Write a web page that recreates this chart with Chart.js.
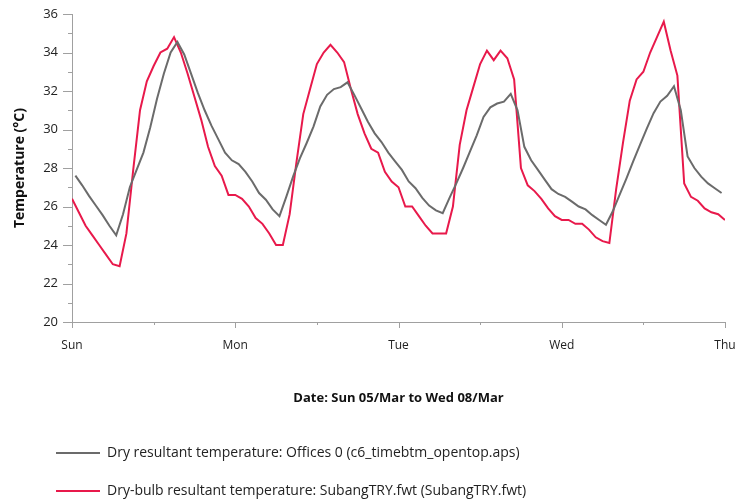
<!DOCTYPE html>
<html>
<head>
<meta charset="utf-8">
<script src="https://cdn.jsdelivr.net/npm/chart.js@4"></script>
<style>
  html, body { margin: 0; padding: 0; background: #fff; }
  #wrap { width: 745px; height: 500px; }
</style>
</head>
<body>
<div id="wrap"><canvas id="myChart" width="745" height="500"></canvas></div>
<script>
const dayLabels = ["Sun", "Mon", "Tue", "Wed", "Thu"];

// hourly, Sun 00:00 .. Thu 00:00
const subangTemp = [
    26.4, 25.7, 25.0, 24.5, 24.0, 23.5, 23.0, 22.9, 24.6, 27.9, 31.0, 32.5,
    33.3, 34.0, 34.2, 34.8, 34.0, 32.9, 31.7, 30.5, 29.1, 28.1, 27.6, 26.6,
    26.6, 26.4, 26.0, 25.4, 25.1, 24.6, 24.0, 24.0, 25.6, 28.3, 30.8, 32.1,
    33.4, 34.0, 34.4, 34.0, 33.5, 32.1, 30.8, 29.8, 29.0, 28.8, 27.8, 27.3,
    27.0, 26.0, 26.0, 25.5, 25.0, 24.6, 24.6, 24.6, 26.0, 29.2, 31.0, 32.2,
    33.4, 34.1, 33.6, 34.1, 33.7, 32.6, 28.0, 27.1, 26.8, 26.4, 25.9, 25.5,
    25.3, 25.3, 25.1, 25.1, 24.8, 24.4, 24.2, 24.1, 26.9, 29.3, 31.5, 32.6,
    33.0, 34.0, 34.8, 35.6, 34.1, 32.8, 27.2, 26.5, 26.3, 25.9, 25.7, 25.6,
    25.3
];

// hourly averages, logged at the half hour
const officeTemp = [
    27.6, 27.1, 26.55, 26.05, 25.55, 25.0, 24.5, 25.6, 27.0, 27.9, 28.8, 30.1,
    31.6, 32.9, 34.0, 34.55, 33.9, 32.9, 31.9, 31.0, 30.2, 29.5, 28.8, 28.4,
    28.2, 27.8, 27.3, 26.7, 26.35, 25.85, 25.5, 26.5, 27.55, 28.5, 29.3, 30.15,
    31.2, 31.8, 32.1, 32.2, 32.45, 31.8, 31.1, 30.4, 29.8, 29.35, 28.8, 28.35,
    27.9, 27.3, 26.95, 26.45, 26.05, 25.8, 25.65, 26.45, 27.2, 28.0, 28.85, 29.7,
    30.65, 31.15, 31.35, 31.45, 31.85, 31.0, 29.1, 28.4, 27.9, 27.4, 26.9, 26.65,
    26.5, 26.25, 26.0, 25.85, 25.55, 25.3, 25.05, 25.75, 26.6, 27.45, 28.35, 29.2,
    30.05, 30.85, 31.45, 31.75, 32.25, 31.0, 28.6, 28.0, 27.55, 27.2, 26.95, 26.7
];

const officeLabel = "Dry resultant temperature: Offices 0 (c6_timebtm_opentop.aps)";
const subangLabel = "Dry-bulb resultant temperature: SubangTRY.fwt (SubangTRY.fwt)";

Chart.defaults.font.family = "'Open Sans', sans-serif";
Chart.defaults.color = "#222";

const axisColor = "#a0a0a0";

// short/long tick marks like the original
const tickMarks = {
    id: "tickMarks",
    afterDraw(chart) {
        const ctx = chart.ctx;
        const area = chart.chartArea;
        const xs = chart.scales.x;
        const ys = chart.scales.y;
        ctx.save();
        ctx.strokeStyle = axisColor;
        ctx.lineWidth = 1;
        ctx.beginPath();
        ys.ticks.forEach(t => {
            const y = Math.round(ys.getPixelForValue(t.value)) + 0.5;
            const len = t.value % 2 === 0 ? 9 : 4;
            ctx.moveTo(area.left - len, y);
            ctx.lineTo(area.left, y);
        });
        xs.ticks.forEach(t => {
            const x = Math.round(xs.getPixelForValue(t.value)) + 0.5;
            const len = t.value % 24 === 0 ? 6 : 3;
            ctx.moveTo(x, area.bottom);
            ctx.lineTo(x, area.bottom + len);
        });
        ctx.stroke();
        ctx.restore();
    }
};

const shiftLegend = {
    id: "shiftLegend",
    afterLayout(chart) {
        chart.legend.left += 32;
        chart.legend.right += 32;
    }
};

const config = {
    type: "line",
    data: {
        datasets: [
            {
                label: officeLabel,
                data: officeTemp.map((v, i) => ({ x: i + 0.5, y: v })),
                borderColor: "#6b6b6b",
                backgroundColor: "#6b6b6b",
                borderWidth: 2,
                pointRadius: 0,
                tension: 0
            },
            {
                label: subangLabel,
                data: subangTemp.map((v, i) => ({ x: i, y: v })),
                borderColor: "#e8194b",
                backgroundColor: "#e8194b",
                borderWidth: 2,
                pointRadius: 0,
                tension: 0
            }
        ]
    },
    options: {
        responsive: false,
        animation: false,
        layout: { padding: { top: 14, right: 20, bottom: 0, left: 0 } },
        plugins: {
            tooltip: { enabled: false },
            legend: {
                position: "bottom",
                align: "start",
                maxHeight: 78,
                labels: {
                    boxWidth: 44,
                    boxHeight: 2,
                    padding: 24,
                    color: "#222",
                    font: { size: 14 },
                    generateLabels(chart) {
                        return Chart.defaults.plugins.legend.labels.generateLabels(chart)
                            .map(l => ({ ...l, lineWidth: 0, fillStyle: l.strokeStyle }));
                    }
                }
            }
        },
        scales: {
            x: {
                type: "linear",
                min: 0,
                max: 96,
                afterFit(scale) {
                    scale.height = 100;
                    scale.paddingLeft = 0;
                    scale.paddingRight = 0;
                },
                border: { color: axisColor },
                grid: { drawOnChartArea: false, drawTicks: false },
                ticks: {
                    stepSize: 12,
                    padding: 16,
                    maxRotation: 0,
                    autoSkip: false,
                    font: { size: 12 },
                    callback: v => (v % 24 === 0 ? dayLabels[v / 24] : "")
                },
                title: {
                    display: true,
                    text: "Date: Sun 05/Mar to Wed 08/Mar",
                    font: { size: 13, weight: "bold" },
                    color: "#111",
                    padding: { top: 0, bottom: 16 }
                }
            },
            y: {
                min: 20,
                max: 36,
                afterFit(scale) {
                    scale.width = 72;
                    scale.paddingTop = 0;
                    scale.paddingBottom = 0;
                },
                border: { color: axisColor },
                grid: { drawOnChartArea: false, drawTicks: false },
                ticks: {
                    stepSize: 1,
                    padding: 14,
                    font: { size: 13 },
                    callback: v => (v % 2 === 0 ? v : "")
                },
                title: {
                    display: true,
                    text: "Temperature (°C)",
                    font: { size: 14, weight: "bold" },
                    color: "#111",
                    padding: { top: 12, bottom: 0 }
                }
            }
        }
    },
    plugins: [tickMarks, shiftLegend]
};

const myChart = document.getElementById("myChart");
new Chart(myChart, config);
</script>
</body>
</html>
